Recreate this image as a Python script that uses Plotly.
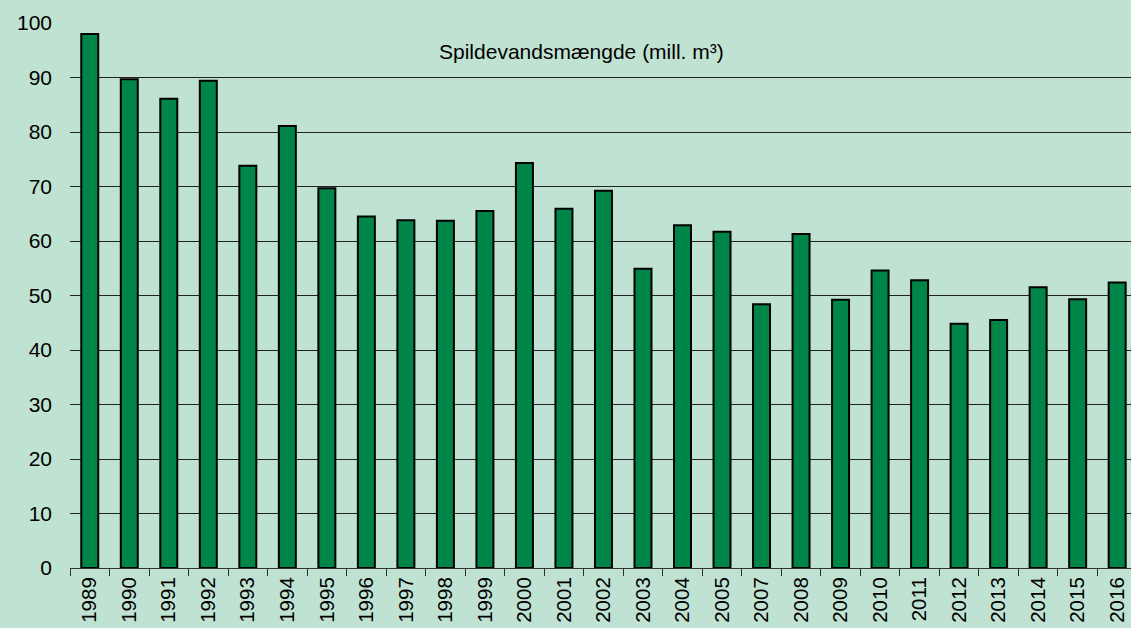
import plotly.graph_objects as go

years = ["1989", "1990", "1991", "1992", "1993", "1994", "1995", "1996", "1997", "1998",
         "1999", "2000", "2001", "2002", "2003", "2004", "2005", "2007", "2008", "2009",
         "2010", "2011", "2012", "2013", "2014", "2015", "2016"]
values = [98.0, 89.7, 86.1, 89.4, 73.8, 81.1, 69.7, 64.5, 63.8, 63.7,
          65.5, 74.3, 65.9, 69.2, 54.9, 62.9, 61.7, 48.4, 61.3, 49.2,
          54.6, 52.8, 44.8, 45.5, 51.5, 49.3, 52.4]
y_ticks = [0, 10, 20, 30, 40, 50, 60, 70, 80, 90, 100]
title_text = "Spildevandsmængde (mill. m³)"

bg = "#C0E2D2"
fig = go.Figure(go.Bar(
    x=years, y=values, width=0.43,
    marker=dict(color="#008548", line=dict(color="black", width=2)),
))
fig.update_layout(
    width=1131, height=628,
    paper_bgcolor=bg, plot_bgcolor=bg,
    margin=dict(l=70, r=0, t=23, b=60),
    showlegend=False,
    font=dict(family="Liberation Sans, Arial", size=21, color="black"),
)
fig.update_xaxes(
    type="category", range=[-0.5, 26.35],
    showline=True, linecolor="#333", linewidth=1,
    ticks="outside", tickson="boundaries", ticklen=7, tickcolor="#333",
    tickangle=-90, showgrid=False,
    tickfont=dict(size=20.5),
)
fig.update_yaxes(
    range=[0, 100], tickvals=y_ticks,
    showgrid=True, gridcolor="#222", gridwidth=1,
    zeroline=False, showline=False, ticks="",
    ticklabelstandoff=17, tickfont=dict(size=21),
)
fig.add_annotation(
    text=title_text, xref="paper", yref="y", x=0.482, y=94.8,
    showarrow=False, font=dict(size=21), xanchor="center", yanchor="middle",
)
fig.write_html(
    "out.html",
    config={"displayModeBar": False},
    post_script="document.body.style.margin='0';document.body.style.overflow='hidden';",
)
